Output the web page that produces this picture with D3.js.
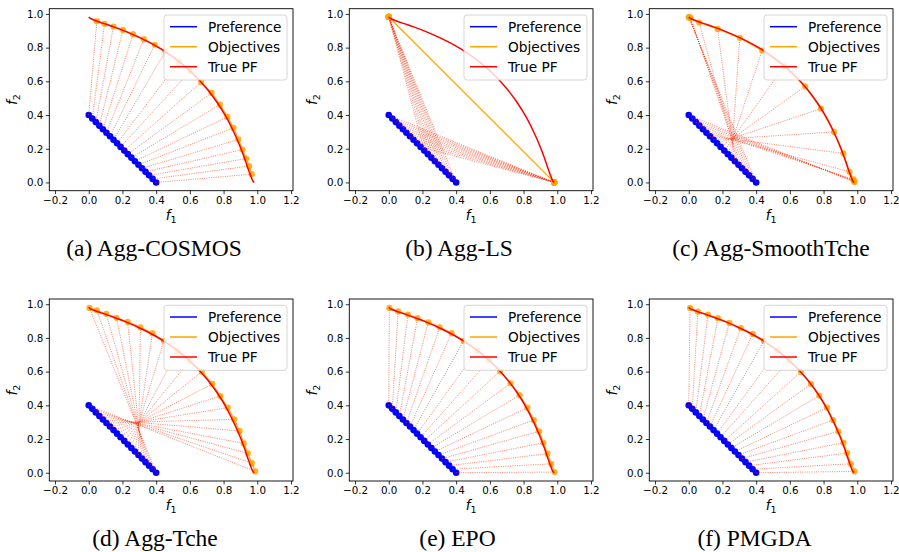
<!DOCTYPE html>
<html><head><meta charset="utf-8">
<script src="https://cdn.jsdelivr.net/npm/d3@7"></script>
<style>body{margin:0;background:#fff}svg{display:block}</style>
</head><body>
<svg id="chart" width="899" height="552"></svg>
<script>
// ---------------- data ----------------
const prefX = [0.000,0.021,0.042,0.063,0.084,0.105,0.126,0.147,0.168,0.189,0.211,0.232,0.253,0.274,0.295,0.316,0.337,0.358,0.379,0.400];
const prefY = [0.400,0.379,0.358,0.337,0.316,0.295,0.274,0.253,0.232,0.211,0.189,0.168,0.147,0.126,0.105,0.084,0.063,0.042,0.021,0.000];

const pfX = [0.000,0.010,0.039,0.086,0.148,0.221,0.302,0.387,0.473,0.555,0.632,0.702,0.763,0.816,0.859,0.895,0.923,0.944,0.961,0.973,0.982];
const pfY = [0.982,0.973,0.961,0.944,0.923,0.895,0.859,0.816,0.763,0.702,0.632,0.555,0.473,0.387,0.302,0.221,0.148,0.086,0.039,0.010,0.000];

// Agg-COSMOS
const objAX = [0.048,0.094,0.147,0.203,0.263,0.327,0.392,0.456,0.536,0.602,0.667,0.729,0.779,0.823,0.859,0.888,0.912,0.934,0.952,0.968];
const objAY = [0.957,0.941,0.925,0.905,0.880,0.850,0.817,0.779,0.718,0.661,0.596,0.531,0.462,0.389,0.324,0.255,0.195,0.142,0.097,0.049];
// Agg-LS
const objBX = [0.982,0.982,0.982,0.982,0.982,0.982,0.982,0.982,0.982,0.982,0.000,0.000,0.000,0.000,0.000,0.000,0.000,0.000,0.000,0.000];
const objBY = [0.000,0.000,0.000,0.000,0.000,0.000,0.000,0.000,0.000,0.000,0.982,0.982,0.982,0.982,0.982,0.982,0.982,0.982,0.982,0.982];
// Agg-SmoothTche
const objCX = [0.984,0.982,0.980,0.978,0.976,0.954,0.918,0.862,0.785,0.691,0.566,0.436,0.303,0.171,0.062,0.010,0.007,0.004,0.002,0.000];
const objCY = [0.002,0.006,0.010,0.014,0.018,0.063,0.172,0.300,0.438,0.570,0.690,0.783,0.858,0.911,0.949,0.977,0.978,0.979,0.980,0.981];
// Agg-Tche
const objDX = [0.988,0.968,0.944,0.920,0.895,0.863,0.825,0.781,0.733,0.671,0.598,0.526,0.446,0.378,0.307,0.231,0.165,0.104,0.048,0.004];
const objDY = [0.008,0.057,0.115,0.174,0.248,0.317,0.386,0.455,0.527,0.600,0.663,0.721,0.782,0.828,0.863,0.895,0.919,0.943,0.964,0.978];
// EPO
const objEX = [0.004,0.056,0.114,0.171,0.235,0.303,0.373,0.444,0.526,0.596,0.661,0.723,0.777,0.823,0.861,0.892,0.918,0.942,0.964,0.984];
const objEY = [0.978,0.958,0.939,0.917,0.893,0.863,0.828,0.782,0.727,0.667,0.602,0.531,0.461,0.386,0.313,0.246,0.178,0.113,0.053,0.004];
// PMGDA
const objFX = [0.008,0.054,0.114,0.173,0.241,0.309,0.380,0.446,0.526,0.596,0.665,0.725,0.775,0.821,0.857,0.888,0.918,0.940,0.962,0.984];
const objFY = [0.978,0.956,0.939,0.917,0.889,0.859,0.824,0.782,0.725,0.667,0.598,0.527,0.458,0.386,0.313,0.246,0.178,0.117,0.053,0.008];

const captions = ["(a) Agg-COSMOS","(b) Agg-LS","(c) Agg-SmoothTche","(d) Agg-Tche","(e) EPO","(f) PMGDA"];
const objXs = [objAX,objBX,objCX,objDX,objEX,objFX];
const objYs = [objAY,objBY,objCY,objDY,objEY,objFY];
const xTicks = [-0.2,0.0,0.2,0.4,0.6,0.8,1.0,1.2];
const yTicks = [0.0,0.2,0.4,0.6,0.8,1.0];
const legendLabels = ["Preference","Objectives","True PF"];

// ---------------- layout ----------------
const colX = [0,300,600], rowY = [0,290.3];
const AX = {left:49.3, top:8.7, w:243.7, h:182};
const capX = [154,459,771,155,457.5,754.5];
const capY = [256,546];
const C = {pref:"#0000ff", obj:"#ffa500", pf:"#ff0000", link:"#ff2a00"};
const tickFont = "DejaVu Sans";

const svg = d3.select("#chart");
const fmt = d3.format(".1f");

captions.forEach((cap,k)=>{
  const r = Math.floor(k/3), c = k%3;
  const g = svg.append("g").attr("transform",`translate(${colX[c]+AX.left},${rowY[r]+AX.top})`);
  const x = d3.scaleLinear().domain([-0.234,1.212]).range([0,AX.w]);
  const y = d3.scaleLinear().domain([-0.049,1.031]).range([AX.h,0]);
  const clipId = "clip"+k;
  g.append("clipPath").attr("id",clipId).append("rect").attr("width",AX.w).attr("height",AX.h);
  const plot = g.append("g").attr("clip-path",`url(#${clipId})`);
  const ox = objXs[k], oy = objYs[k];
  const idx = d3.range(prefX.length);

  // preference line + markers
  const line = d3.line().x(i=>x(prefX[i])).y(i=>y(prefY[i]));
  plot.append("path").datum(idx).attr("d",line).attr("fill","none").attr("stroke",C.pref).attr("stroke-width",1.5);
  plot.append("g").selectAll("circle").data(idx).join("circle")
    .attr("cx",i=>x(prefX[i])).attr("cy",i=>y(prefY[i])).attr("r",3.3).attr("fill",C.pref);

  // links
  plot.append("g").selectAll("line").data(idx).join("line")
    .attr("x1",i=>x(prefX[i])).attr("y1",i=>y(prefY[i]))
    .attr("x2",i=>x(ox[i])).attr("y2",i=>y(oy[i]))
    .attr("stroke",C.link).attr("stroke-opacity",0.6).attr("stroke-width",1)
    .attr("stroke-dasharray","1,1.3");

  const oline = d3.line().x(i=>x(ox[i])).y(i=>y(oy[i]));
  plot.append("path").datum(idx).attr("d",oline).attr("fill","none").attr("stroke",C.obj).attr("stroke-width",1.2);
  plot.append("g").selectAll("circle").data(idx).join("circle")
    .attr("cx",i=>x(ox[i])).attr("cy",i=>y(oy[i])).attr("r",3.1).attr("fill",C.obj).attr("fill-opacity",0.85);

  const pfLine = d3.line().x(i=>x(pfX[i])).y(i=>y(pfY[i])).curve(d3.curveCatmullRom);
  plot.append("path").datum(d3.range(pfX.length)).attr("d",pfLine).attr("fill","none").attr("stroke",C.pf).attr("stroke-width",1.5);

  // axes
  const xa = g.append("g").attr("transform",`translate(0,${AX.h})`)
    .call(d3.axisBottom(x).tickValues(xTicks).tickFormat(fmt).tickSize(3.5).tickPadding(2.5));
  const ya = g.append("g").call(d3.axisLeft(y).tickValues(yTicks).tickFormat(fmt).tickSize(3.5).tickPadding(2.5));
  [xa,ya].forEach(a=>{
    a.select(".domain").remove();
    a.selectAll("text").attr("font-family",tickFont).attr("font-size",10.3).attr("fill","#000");
    a.selectAll("line").attr("stroke","#000").attr("stroke-width",0.8);
  });
  g.append("rect").attr("width",AX.w).attr("height",AX.h).attr("fill","none").attr("stroke","#000").attr("stroke-width",0.9);

  // axis labels
  const xl = g.append("text").attr("x",AX.w/2).attr("y",AX.h+29.3).attr("text-anchor","middle")
    .attr("font-family",tickFont).attr("font-size",13.5);
  xl.append("tspan").attr("font-style","italic").text("f");
  xl.append("tspan").attr("font-size",9.5).attr("dy",3).text("1");
  const yl = g.append("text").attr("transform",`translate(${-32},${AX.h/2}) rotate(-90)`).attr("text-anchor","middle")
    .attr("font-family",tickFont).attr("font-size",13.5);
  yl.append("tspan").attr("font-style","italic").text("f");
  yl.append("tspan").attr("font-size",9.5).attr("dy",3).text("2");

  // legend
  const lg = g.append("g").attr("transform",`translate(${AX.w-6-123},6.3)`);
  lg.append("rect").attr("width",123).attr("height",65).attr("rx",3).attr("fill","#fff").attr("fill-opacity",0.8)
    .attr("stroke","#cccccc").attr("stroke-width",0.8);
  const lc = [C.pref,C.obj,C.pf];
  legendLabels.forEach((t,j)=>{
    const yy = 11.7 + j*20;
    lg.append("line").attr("x1",6).attr("x2",33).attr("y1",yy).attr("y2",yy).attr("stroke",lc[j]).attr("stroke-width",1.5);
    lg.append("text").attr("x",44).attr("y",yy).attr("dy","0.36em").attr("font-family",tickFont).attr("font-size",13.7).attr("fill","#000").text(t);
  });

  // caption
  svg.append("text").attr("x",capX[k]).attr("y",capY[r]).attr("text-anchor","middle")
    .attr("font-family","Liberation Serif, Times New Roman, serif").attr("font-size",23.5).attr("fill","#000").text(cap);
});
</script>
</body></html>
